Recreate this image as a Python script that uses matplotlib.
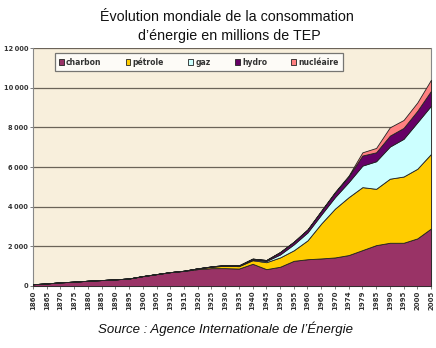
import matplotlib.pyplot as plt
import numpy as np

annees = ['1860', '1865', '1870', '1875', '1880', '1885', '1890', '1895', '1900', '1905',
          '1910', '1915', '1920', '1925', '1930', '1935', '1940', '1945', '1950', '1955',
          '1960', '1965', '1970', '1974', '1979', '1985', '1990', '1995', '2000', '2005']

charbon = [90, 130, 185, 220, 265, 300, 335, 380, 500, 600,
           700, 760, 850, 900, 900, 880, 1120, 850, 970, 1270,
           1350, 1390, 1440, 1560, 1810, 2060, 2180, 2180, 2400, 2900]
petrole = [0, 0, 0, 0, 0, 0, 0, 0, 0, 0,
           0, 10, 40, 70, 120, 120, 180, 350, 470, 530,
           950, 1760, 2460, 2920, 3175, 2840, 3230, 3340, 3510, 3760]
gaz = [0, 0, 0, 0, 0, 0, 0, 0, 0, 0,
       0, 0, 0, 10, 20, 20, 40, 60, 150, 300,
       400, 450, 580, 760, 1085, 1390, 1620, 1900, 2340, 2430]
hydro = [0, 0, 0, 0, 0, 0, 0, 0, 0, 0,
         0, 0, 0, 10, 20, 20, 40, 50, 120, 130,
         150, 180, 230, 280, 510, 450, 550, 550, 580, 750]
nucleaire = [0, 0, 0, 0, 0, 0, 0, 0, 0, 0,
             0, 0, 0, 0, 0, 0, 0, 0, 0, 0,
             0, 20, 30, 50, 160, 220, 420, 400, 420, 560]

noms = ['charbon', 'pétrole', 'gaz', 'hydro', 'nucléaire']
couleurs = ['#993366', '#FFCC00', '#CCFFFF', '#660066', '#FF8080']

fig = plt.figure(figsize=(4.36, 3.48), dpi=100)
ax = fig.add_axes([33 / 436, 1 - 286 / 348, 398 / 436, 238 / 348])
ax.set_facecolor('#F8EFDC')

x = np.arange(len(annees))
ax.stackplot(x, charbon, petrole, gaz, hydro, nucleaire,
             colors=couleurs, labels=noms, edgecolor='#222222', linewidth=0.6, zorder=3)

ax.set_xlim(0, len(annees) - 1)
ax.set_ylim(0, 12000)
yt = np.arange(0, 12001, 2000)
ax.set_yticks(yt)
ax.set_yticklabels([f'{v:,}'.replace(',', '\u2009') for v in yt], fontsize=4.8, fontweight='bold',
                   family='DejaVu Sans', color='#333333')
ax.set_xticks(x)
ax.set_xticklabels(annees, rotation=90, fontsize=5, fontweight='bold',
                   family='DejaVu Sans', color='#333333')
ax.tick_params(axis='both', length=2.5, width=0.6, color='#666666', pad=1)
ax.grid(axis='y', color='#6b6358', linewidth=0.9, zorder=1)
ax.set_axisbelow(True)
ax.spines['top'].set_visible(False)
for s in ['left', 'right', 'bottom']:
    ax.spines[s].set_color('#888888')
    ax.spines[s].set_linewidth(0.8)

leg = ax.legend(loc='upper left', bbox_to_anchor=(0.045, 0.995), ncol=5,
                frameon=True, fancybox=False, edgecolor='#555555', facecolor='white',
                handlelength=0.6, handleheight=0.9, handletextpad=0.3, columnspacing=3.2,
                borderpad=0.55, prop={'weight': 'bold', 'size': 5.5})
leg.get_frame().set_linewidth(0.9)
for t in leg.get_texts():
    t.set_color('#333333')

fig.text(227 / 436, 1 - 17 / 348, 'Évolution mondiale de la consommation', ha='center', va='center',
         fontsize=10.3, family='Liberation Sans', color='#111111')
fig.text(229 / 436, 1 - 36 / 348, 'd\u2019énergie en millions de TEP', ha='center', va='center',
         fontsize=10.3, family='Liberation Sans', color='#111111')
fig.text(225 / 436, 1 - 329 / 348, 'Source : Agence Internationale de l\u2019Énergie', ha='center',
         va='center', fontsize=9.5, style='italic', family='Liberation Sans', color='#111111')

fig.savefig('out.png', dpi=100)
